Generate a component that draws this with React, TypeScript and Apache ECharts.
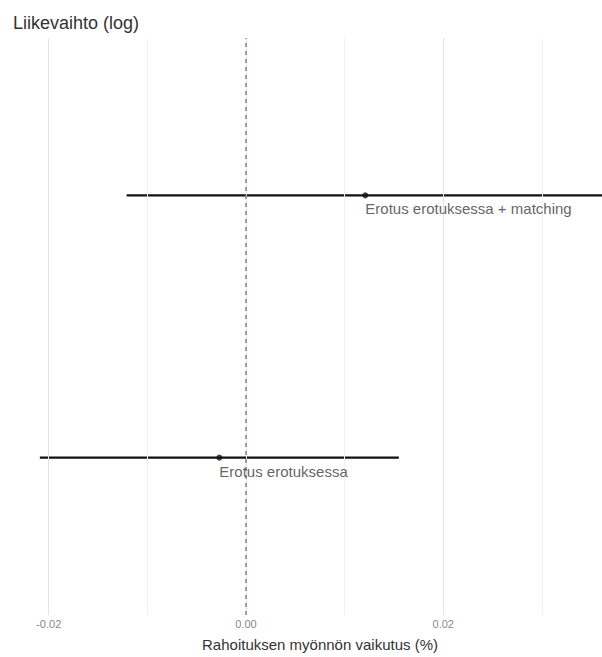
import React, { useEffect, useRef } from "react";
import * as echarts from "echarts";

const methods = ["Erotus erotuksessa", "Erotus erotuksessa + matching"];
const yPos = [1, 2];
const estimates = [-0.0027, 0.0121];
const lower = [-0.0209, -0.0121];
const upper = [0.0155, 0.0365];
const gridValues = [-0.02, -0.01, 0, 0.01, 0.02, 0.03];
const majorValues = [-0.02, 0, 0.02];
const titleText = "Liikevaihto (log)";
const xTitle = "Rahoituksen myönnön vaikutus (%)";

export default function App() {
  const ref = useRef<HTMLDivElement>(null);
  useEffect(() => {
    if (!ref.current) return;
    const chart = echarts.init(ref.current, undefined, { renderer: "svg" });
    const font = "Liberation Sans, Arial, sans-serif";
    const series: any[] = [];
    series.push({
      type: "line",
      data: [],
      silent: true,
      markLine: {
        silent: true,
        symbol: "none",
        label: { show: false },
        data: gridValues.map((v) => ({
          xAxis: v,
          lineStyle: {
            color: majorValues.includes(v) ? "#e4e4e4" : "#f1f1f1",
            width: 1,
            type: "solid",
          },
        })),
      },
    });
    methods.forEach((m, i) => {
      series.push({
        type: "line",
        name: m,
        data: [
          [lower[i], yPos[i]],
          [upper[i], yPos[i]],
        ],
        clip: true,
        symbol: "none",
        lineStyle: { color: "#111", width: 2.2 },
        z: 3,
      });
    });
    series.push({
      type: "line",
      data: [],
      silent: true,
      markLine: {
        silent: true,
        symbol: "none",
        label: { show: false },
        data: [{ xAxis: 0 }],
        lineStyle: { color: "#7f7fb0", width: 1.5, type: [4, 4] },
      },
      z: 4,
    });
    series.push({
      type: "scatter",
      data: methods.map((m, i) => ({ value: [estimates[i], yPos[i]], name: m })),
      symbol: "circle",
      symbolSize: 6,
      itemStyle: { color: "#111" },
      label: {
        show: true,
        position: [3, 9],
        align: "left",
        verticalAlign: "top",
        formatter: (p: any) => p.name,
        fontFamily: font,
        fontSize: 15,
        color: "#3a3a3a",
      },
      z: 5,
    });

    chart.setOption({
      animation: false,
      title: {
        text: titleText,
        left: 8,
        top: 9,
        textStyle: { fontFamily: font, fontSize: 18, fontWeight: "normal", color: "#333" },
      },
      grid: { left: 30, right: 0, top: 38, bottom: 33, containLabel: false },
      xAxis: {
        type: "value",
        min: -0.0219,
        max: 0.0361,
        name: xTitle,
        nameLocation: "middle",
        nameGap: 22,
        nameTextStyle: { fontFamily: font, fontSize: 15, color: "#333", padding: [0, 0, 0, 8] },
        axisLine: { show: false },
        axisTick: { show: false },
        splitLine: { show: false },
        axisLabel: {
          customValues: majorValues,
          formatter: (v: number) => v.toFixed(2),
          fontFamily: font,
          fontSize: 11,
          color: "#888",
          margin: 3,
        },
      },
      yAxis: {
        type: "value",
        min: 0.4,
        max: 2.6,
        show: false,
        splitLine: { show: false },
      },
      series,
    });
    return () => chart.dispose();
  }, []);
  return (
    <div
      ref={ref}
      style={{ position: "fixed", left: 0, top: 0, width: 602, height: 657, background: "#fff" }}
    />
  );
}
